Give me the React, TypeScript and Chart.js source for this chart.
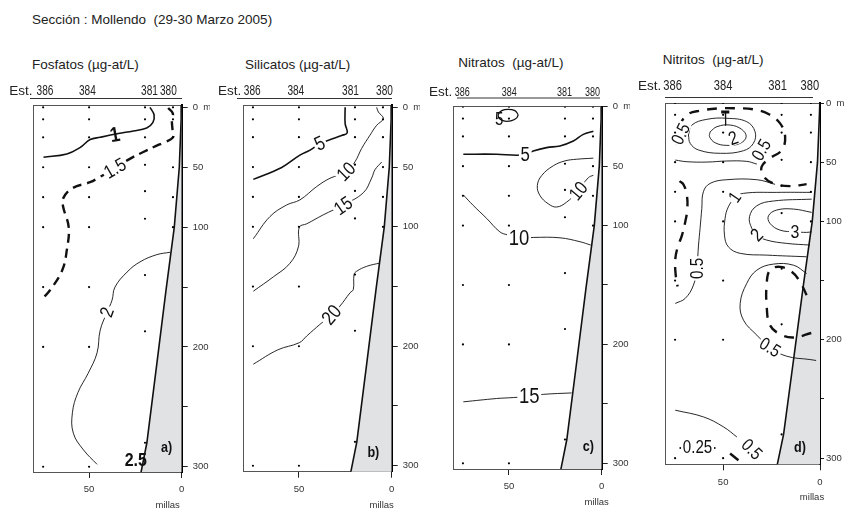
import React, { useEffect, useRef } from 'react';
import { Chart, registerables } from 'chart.js';

Chart.register(...registerables);

const FONT = '"Liberation Sans", Arial, Helvetica, sans-serif';

// ---------- shared data ----------
const STATIONS = ['386', '384', '381', '380'];
const STATION_MILLAS = [74.8, 50, 19.8, 4.7];
const STATION_DEPTHS = [
  [0, 10, 25, 50, 75, 100, 150, 200, 300],
  [0, 10, 25, 50, 75, 100, 150, 200, 300],
  [0, 10, 25, 48, 70, 93, 140, 187, 280],
  [0, 10, 25, 50, 75, 100],
];
const DEPTH_TICKS = [0, 50, 100, 150, 200, 250, 300];
const DEPTH_TICK_LABELS = ['0  m', '50', '100', '', '200', '', '300'];
const MILLAS_TICKS = [50, 0];
// shelf profile (millas, depth)
const SHELF = [[0, -5], [0.3, 10], [1.3, 50], [4, 100], [8.5, 153], [13.5, 215], [18.8, 280], [22, 305], [23.5, 320]];

// ---------- a) Fosfatos ----------
const FOS_1 = [[17.1, 0], [14.9, 6.4], [15.6, 12.8], [18.9, 17.2], [26.1, 19.7], [34.2, 21.9], [44, 25], [49.4, 26.9], [54.9, 33.6], [62, 38.9], [74.6, 41.7]];
const FOS_15 = [[7.3, 0.5], [4.8, 5], [5.3, 11], [5, 18], [4.7, 25], [9, 29], [13.5, 32], [21, 37.5], [28, 43], [36, 51], [44, 58], [49.5, 62.5], [59, 67.5], [64, 76], [64, 83], [61, 100], [62, 119], [64.5, 136], [71, 152.5], [74.8, 159]];
const FOS_2 = [[6.3, 121], [13.5, 123], [22.5, 129], [29.5, 137.5], [36, 150], [37.6, 161], [40.3, 171], [44, 186], [45.7, 205], [50.5, 222], [56, 238], [59, 255], [58.5, 272], [53, 286], [45.7, 298]];

// ---------- b) Silicatos ----------
const SIL_5 = [[25.1, 0], [25.1, 13.6], [24, 21.4], [27, 23.6], [31.5, 26.1], [38.7, 30.3], [44, 35.8], [49.5, 40], [59.3, 50.3], [74.6, 60.3]];
const SIL_10 = [[8.1, 0], [7.2, 3.9], [4.5, 9.4], [8.1, 15], [11.7, 23.3], [16.2, 34.4], [19.8, 45.6], [24.5, 54], [33.3, 59.4], [40.5, 66.4], [49.5, 77.5], [56.6, 81.7], [65.6, 91.4], [74.6, 110]];
const SIL_15 = [[5.4, 45.8], [9, 52.2], [10.8, 59.2], [15.3, 71.5], [26.1, 81.7], [36.9, 90], [45.8, 97.5], [49.8, 100.3], [50.3, 116.8], [55, 130.8], [63.8, 141.9], [74.6, 153.9]];
const SIL_20 = [[6.3, 130.3], [13.5, 133.1], [18.9, 137.2], [20.3, 140], [20.7, 152.5], [22.5, 155.3], [27.9, 166.4], [32.4, 173.6], [38.7, 181.7], [45.8, 191.4], [49.8, 197], [61.4, 203], [74.6, 215]];

// ---------- c) Nitratos ----------
const NIT_5_LOOP = [[45, 6.7], [46.8, 3.3], [50.4, 2.2], [53.9, 3.3], [55.8, 6.7], [54.9, 10.3], [52.2, 12.2], [48.5, 11.7], [45.8, 9.4], [45, 6.7]];
const NIT_5 = [[4.5, 20.6], [9.9, 23.3], [15.3, 28.9], [22.5, 33], [29.7, 34.4], [36.9, 37.2], [41.4, 40], [45.8, 40.8], [56.6, 40], [74.6, 40]];
const NIT_10_A = [[4.5, 43.3], [13.5, 44.2], [19.8, 45.6], [26.1, 49.7], [32.4, 58], [34.7, 66.4], [33.3, 74.7], [28.8, 81.7], [24.3, 84.4], [18.9, 80.3], [13.5, 72], [7.2, 59.7], [4.5, 57.7]];
const NIT_10_B = [[74.6, 74.2], [69.3, 83], [62, 94], [54.9, 105.3], [50.4, 108], [44.1, 110.8], [36.9, 110], [22.5, 110.3], [11.7, 113.6], [5.9, 116.4]];
const NIT_15 = [[74.6, 248.3], [56.6, 245.5], [47.7, 244.7], [38.7, 243.6], [31.5, 242], [16.2, 240.8]];

// ---------- d) Nitritos ----------
const NO2_05_DASH_TOP = [[74.2, 35.5], [73, 21.4], [68.7, 10.1], [61.9, 6.5], [51.5, 4.5], [42.9, 4.5], [34.4, 5.3], [26.6, 9.3], [20.6, 17.2], [18, 28.5], [19.7, 39.7], [25.8, 46.7], [30.1, 53.8], [29.2, 61.7], [24.1, 67.9], [15.5, 70.2], [6.9, 68.5]];
const NO2_1_LOOP = [[67.9, 27], [66.1, 18.6], [58.4, 13.8], [48.1, 12.9], [37.8, 15.8], [33.5, 24.3], [34.4, 34.1], [39.5, 40.3], [51.5, 42.5], [62.7, 39.7], [67, 34.1], [67.9, 27]];
const NO2_2_LOOP = [[56.7, 24.3], [53.2, 20], [46.4, 18.6], [40.4, 22.3], [38.1, 28.5], [41.2, 34.1], [48.1, 35.8], [54.1, 33.6], [57, 28.5], [56.7, 24.3]];
const NO2_LINE_50 = [[74.7, 48.2], [68.7, 49.6], [58.4, 49.9], [48.1, 49], [37.8, 49.3], [32.6, 51.6]];
const NO2_MARK = [[48.9, 8], [48.7, 19]];
const NO2_MARK_BAR = [[51, 7.5], [46.8, 7.5]];
const NO2_05_DASH_LEFT = [[72.5, 66], [70.4, 69], [68.7, 78], [68.5, 90], [69.5, 100], [71.3, 112], [73.5, 122], [74.7, 132], [74.5, 145], [73.5, 155]];
const NO2_05_SOLID = [[23.2, 68.7], [32.6, 64.8], [48.1, 64.8], [56.7, 67.9], [60.2, 75], [61, 89], [61.9, 105.9], [62.7, 120], [63.6, 139.7], [65.3, 153.8], [69.6, 165.1], [74.7, 169.3]];
const NO2_1 = [[4.3, 75.5], [22.3, 75.5], [39.5, 76.3], [43.8, 80], [47.3, 87.7], [49, 97.5], [49.3, 111.6], [47.3, 121.5], [41.2, 127], [27.5, 128.5], [6.9, 129.9]];
const NO2_2 = [[4.3, 81.2], [24.1, 82.8], [32.6, 86.8], [36.4, 96.1], [35.2, 105.9], [32.6, 111.6], [27.5, 115.8], [17.2, 118.6], [5.2, 120]];
const NO2_3 = [[4.3, 92.4], [13.7, 89.6], [22.3, 90.4], [26.6, 95.3], [25.8, 101.7], [20.6, 107.4], [12.9, 108.8], [6.9, 109.3], [4.3, 108.8]];
const NO2_05_DOME = [[6.9, 144], [13.7, 137], [24.1, 136.1], [32.6, 141.2], [37.8, 152.4], [41.2, 169.3], [39.5, 183.4], [32.6, 196.1], [25.8, 206.5], [17.2, 213.9], [5.2, 216.7], [2, 217.5]];
const NO2_05_DASH_DOME = [[6.9, 162.3], [10.3, 151], [14.6, 142.6], [20.6, 138.4], [25.8, 141.2], [27.5, 152.4], [27.5, 172.2], [25.8, 187.7], [20.6, 195.3], [13.7, 198.1], [4.3, 194.2]];
const NO2_05_BOTTOM = [[74.7, 259.5], [60.1, 265.2], [49.8, 273.6], [42.9, 282.1]];
const NO2_025_DASH = [[46.4, 296.1], [42.1, 301.8]];

// ---------- panel layout / styles ----------
type Line = { pts: number[][]; w: number; dash?: number[]; tension?: number };
type Lbl = { x: number; y: number; t: string; size: number; rot?: number; bold?: boolean; gap?: boolean };

const THIN = 0.9;
const MED = 1.6;
const DASHW = 2.4;

const PANELS: any[] = [
  {
    key: 'a', title: 'Fosfatos (µg-at/L)', titleX: 32, titleBase: 69.3,
    canvasLeft: 0, canvasW: 210, box: { l: 33.5, t: 105.3, r: 181.7, b: 472 }, yMin: -1.7, yMax: 304.4,
    estX: 9.3, estBase: 94.5, stSize: 14, stScale: 0.72, stPos: [73.8, 50.9, 17.4, 7.2], lineY: 98, lineL: 30, lineR: 182,
    tickLen: 6, tickPad: 5, millasDx: -14,
    lines: [
      { pts: FOS_1, w: MED },
      { pts: FOS_15, w: DASHW, dash: [9, 6] },
      { pts: FOS_2, w: THIN },
    ] as Line[],
    labels: [
      { x: 36, y: 23, t: '1', size: 21, rot: -10, bold: true },
      { x: 36, y: 51, t: '1.5', size: 19, rot: -30, gap: true },
      { x: 40.3, y: 171, t: '2', size: 19, rot: -70, gap: true },
      { x: 24.8, y: 294, t: '2.5', size: 19, bold: true },
      { x: 8.1, y: 283.6, t: 'a)', size: 15, bold: true },
    ] as Lbl[],
  },
  {
    key: 'b', title: 'Silicatos (µg-at/L)', titleX: 245, titleBase: 69.3,
    canvasLeft: 210, canvasW: 210, box: { l: 243.3, t: 105.3, r: 391.7, b: 471.7 }, yMin: -1.7, yMax: 305,
    estX: 218, estBase: 94.5, stSize: 14, stScale: 0.72, stPos: [75.2, 51.7, 22.2, 3.9], lineY: 98, lineL: 237, lineR: 392,
    tickLen: 6, tickPad: 5, millasDx: -10,
    lines: [
      { pts: SIL_5, w: MED },
      { pts: SIL_10, w: THIN },
      { pts: SIL_15, w: THIN },
      { pts: SIL_20, w: THIN },
    ] as Line[],
    labels: [
      { x: 38.7, y: 30.3, t: '5', size: 20, rot: -25, gap: true },
      { x: 24.5, y: 54, t: '10', size: 19, rot: -45, gap: true },
      { x: 26.1, y: 82.5, t: '15', size: 19, rot: -35, gap: true },
      { x: 32.4, y: 173.8, t: '20', size: 20, rot: -50, gap: true },
      { x: 9.9, y: 288.6, t: 'b)', size: 15, bold: true },
    ] as Lbl[],
  },
  {
    key: 'c', title: 'Nitratos  (µg-at/L)', titleX: 458.3, titleBase: 67.7,
    canvasLeft: 420, canvasW: 210, box: { l: 453.3, t: 106.7, r: 601.7, b: 469 }, yMin: 0, yMax: 304.8,
    estX: 429, estBase: 95.5, stSize: 12, stScale: 0.75, stPos: [75.2, 49.8, 20.1, 5], lineY: 97.5, lineL: 457, lineR: 600,
    tickLen: 6, tickPad: 5, millasDx: -5,
    lines: [
      { pts: NIT_5_LOOP, w: 1.3 },
      { pts: NIT_5, w: MED },
      { pts: NIT_10_A, w: THIN },
      { pts: NIT_10_B, w: THIN },
      { pts: NIT_15, w: THIN },
    ] as Lbl[] as any,
    labels: [
      { x: 55.2, y: 11, t: '5', size: 18 },
      { x: 41.2, y: 40, t: '5', size: 20, gap: true },
      { x: 12.5, y: 71, t: '10', size: 19, rot: -50, gap: true },
      { x: 44.6, y: 110.8, t: '10', size: 22, gap: true },
      { x: 39, y: 243.6, t: '15', size: 22, gap: true },
      { x: 7.2, y: 285.8, t: 'c)', size: 15, bold: true },
    ] as Lbl[],
  },
  {
    key: 'd', title: 'Nitritos  (µg-at/L)', titleX: 662.7, titleBase: 64,
    canvasLeft: 630, canvasW: 215, box: { l: 665, t: 103, r: 820, b: 464.3 }, yMin: 0, yMax: 305.2,
    estX: 638, estBase: 89.5, stSize: 15.5, stScale: 0.72, stPos: [76.1, 50, 21.9, 5.2], lineY: 97, lineL: 665, lineR: 813,
    tickLen: 4, tickPad: 2, millasDx: -8,
    lines: [
      { pts: NO2_05_DASH_TOP, w: DASHW, dash: [10, 8] },
      { pts: NO2_1_LOOP, w: THIN },
      { pts: NO2_2_LOOP, w: THIN },
      { pts: NO2_LINE_50, w: THIN },
      { pts: NO2_MARK, w: THIN, tension: 0 },
      { pts: NO2_MARK_BAR, w: 3, tension: 0 },
      { pts: NO2_05_DASH_LEFT, w: DASHW, dash: [10, 8] },
      { pts: NO2_05_SOLID, w: THIN },
      { pts: NO2_1, w: THIN },
      { pts: NO2_2, w: THIN },
      { pts: NO2_3, w: THIN },
      { pts: NO2_05_DOME, w: THIN },
      { pts: NO2_05_DASH_DOME, w: DASHW, dash: [10, 8] },
      { pts: NO2_05_BOTTOM, w: THIN },
      { pts: NO2_025_DASH, w: DASHW, tension: 0 },
    ] as Line[],
    labels: [
      { x: 71.8, y: 26.2, t: '0.5', size: 18, rot: -65, gap: true },
      { x: 44.7, y: 29.9, t: '2', size: 19, rot: -20, gap: true },
      { x: 30.2, y: 39.7, t: '0.5', size: 18, rot: -60, gap: true },
      { x: 43.9, y: 79.7, t: '1', size: 18, rot: -55, gap: true },
      { x: 32.6, y: 111.6, t: '2', size: 19, rot: -45, gap: true },
      { x: 12.9, y: 108.8, t: '3', size: 19, gap: true },
      { x: 63.4, y: 139.7, t: '0.5', size: 18, rot: -90, gap: true },
      { x: 25.8, y: 206.5, t: '0.5', size: 18, rot: 32, gap: true },
      { x: 35.2, y: 292.7, t: '0.5', size: 18, rot: 45, gap: true },
      { x: 63.2, y: 290.5, t: '·0.25·', size: 18, gap: true },
      { x: 10.3, y: 290.5, t: 'd)', size: 15, bold: true },
    ] as Lbl[],
  },
];

const CANVAS_TOP = 75;
const CANVAS_H = 433;

const toXY = (pts: number[][]) => pts.map(([x, y]) => ({ x, y }));

function overlayPlugin(p: any) {
  return {
    id: 'overlay_' + p.key,
    beforeDatasetDraw(chart: any, args: any) {
      if (args.meta.type !== 'scatter') return;
      const { ctx, scales } = chart;
      const xs = scales.x;
      const ys = scales.y;
      ctx.save();
      for (const lb of p.labels as Lbl[]) {
        const px = xs.getPixelForValue(lb.x);
        const py = ys.getPixelForValue(lb.y);
        ctx.save();
        ctx.translate(px, py);
        ctx.rotate(((lb.rot || 0) * Math.PI) / 180);
        ctx.scale(0.84, 1);
        ctx.font = `${lb.bold ? 'bold ' : ''}${lb.size}px ${FONT}`;
        ctx.textAlign = 'center';
        ctx.textBaseline = 'middle';
        if (lb.gap) {
          const w = ctx.measureText(lb.t).width;
          ctx.fillStyle = '#ffffff';
          ctx.fillRect(-w / 2 - 2, -lb.size * 0.36, w + 4, lb.size * 0.72);
        }
        ctx.fillStyle = '#111';
        ctx.fillText(lb.t, 0, lb.size * 0.04);
        ctx.restore();
      }
      ctx.restore();
    },
    afterDraw(chart: any) {
      const { ctx, chartArea, scales } = chart;
      const xs = scales.x;
      ctx.save();
      ctx.fillStyle = '#222';
      ctx.textBaseline = 'alphabetic';
      ctx.textAlign = 'left';
      ctx.font = `13.5px ${FONT}`;
      ctx.fillText('Est.', p.estX - p.canvasLeft, p.estBase - CANVAS_TOP);
      STATIONS.forEach((s, i) => {
        ctx.save();
        ctx.translate(xs.getPixelForValue(p.stPos[i]), p.estBase - CANVAS_TOP);
        ctx.scale(p.stScale, 1);
        ctx.font = `${p.stSize}px ${FONT}`;
        ctx.textAlign = 'center';
        ctx.fillText(s, 0, 0);
        ctx.restore();
      });
      ctx.strokeStyle = '#333';
      ctx.lineWidth = 1;
      ctx.beginPath();
      ctx.moveTo(p.lineL - p.canvasLeft, p.lineY - CANVAS_TOP + 0.5);
      ctx.lineTo(p.lineR - p.canvasLeft, p.lineY - CANVAS_TOP + 0.5);
      ctx.stroke();
      ctx.font = `9.5px ${FONT}`;
      ctx.textAlign = 'center';
      ctx.fillStyle = '#333';
      ctx.fillText('millas', xs.getPixelForValue(0) + p.millasDx, chartArea.bottom + 36);
      ctx.restore();
    },
  };
}

function buildChart(canvas: HTMLCanvasElement, p: any) {
  const datasets: any[] = [];
  const shelfPoly = [...SHELF, [0, 320]];
  datasets.push({
    type: 'line', data: toXY(shelfPoly), fill: 'shape', backgroundColor: '#e1e2e4',
    borderColor: 'rgba(0,0,0,0)', borderWidth: 0, pointRadius: 0, tension: 0, order: 5,
    xAxisID: 'x', yAxisID: 'y',
  });
  for (const ln of p.lines as Line[]) {
    datasets.push({
      type: 'line', data: toXY(ln.pts), borderColor: '#111', borderWidth: ln.w,
      borderDash: ln.dash || [], pointRadius: 0, tension: ln.tension ?? 0.4, fill: false,
      order: 2, xAxisID: 'x', yAxisID: 'y', borderCapStyle: 'butt',
    });
  }
  datasets.push({
    type: 'line', data: toXY(SHELF), borderColor: '#111', borderWidth: 1.6, pointRadius: 0,
    tension: 0, fill: false, order: 1, xAxisID: 'x', yAxisID: 'y',
  });
  const dots: any[] = [];
  STATION_MILLAS.forEach((m, i) => STATION_DEPTHS[i].forEach((d) => dots.push({ x: m, y: d })));
  datasets.push({
    type: 'scatter', data: dots, backgroundColor: '#000', borderWidth: 0, pointRadius: 1.1,
    order: 0, xAxisID: 'x', yAxisID: 'y',
  });

  const tickFont = { family: FONT, size: 9.5 };
  return new Chart(canvas, {
    type: 'scatter',
    data: { datasets },
    options: {
      animation: false,
      responsive: false,
      maintainAspectRatio: false,
      events: [],
      layout: { padding: { left: p.box.l - p.canvasLeft, right: 0, top: 0, bottom: 0 } },
      plugins: { legend: { display: false }, tooltip: { enabled: false }, title: { display: false } },
      scales: {
        x: {
          type: 'linear', position: 'bottom', reverse: true, min: 0, max: 80,
          afterBuildTicks: (s: any) => { s.ticks = MILLAS_TICKS.map((v) => ({ value: v })); },
          afterFit: (s: any) => { s.height = CANVAS_TOP + CANVAS_H - p.box.b; },
          ticks: { font: tickFont, color: '#333', padding: 6, maxRotation: 0, autoSkip: false, callback: (v: any) => String(v) },
          grid: { display: true, drawOnChartArea: false, drawTicks: true, tickLength: 6, tickColor: '#222', tickWidth: 1 },
          border: { display: true, color: '#555', width: 1 },
        },
        xt: {
          type: 'linear', position: 'top', reverse: true, min: 0, max: 80,
          afterFit: (s: any) => { s.height = p.box.t - CANVAS_TOP; },
          ticks: { display: false }, grid: { display: false },
          border: { display: true, color: '#555', width: 1 },
        },
        y: {
          type: 'linear', position: 'right', reverse: true, min: p.yMin, max: p.yMax,
          afterBuildTicks: (s: any) => { s.ticks = DEPTH_TICKS.map((v) => ({ value: v })); },
          afterFit: (s: any) => { s.width = p.canvasLeft + p.canvasW - p.box.r; },
          ticks: {
            font: tickFont, color: '#333', padding: p.tickPad, autoSkip: false,
            callback: (v: any) => { const i = DEPTH_TICKS.indexOf(Number(v)); return i >= 0 ? DEPTH_TICK_LABELS[i] : ''; },
          },
          grid: { display: true, drawOnChartArea: false, drawTicks: true, tickLength: p.tickLen, tickColor: '#222', tickWidth: 1 },
          border: { display: true, color: '#000', width: 2 },
        },
        yl: {
          type: 'linear', position: 'left', reverse: true, min: p.yMin, max: p.yMax,
          afterFit: (s: any) => { s.width = 0; },
          ticks: { display: false }, grid: { display: false },
          border: { display: true, color: '#555', width: 1 },
        },
      },
    } as any,
    plugins: [overlayPlugin(p)],
  });
}

export default function App() {
  const refs = useRef<(HTMLCanvasElement | null)[]>([]);
  useEffect(() => {
    const charts = PANELS.map((p, i) => buildChart(refs.current[i] as HTMLCanvasElement, p));
    return () => charts.forEach((c) => c.destroy());
  }, []);
  const textStyle = (left: number, base: number): React.CSSProperties => ({
    position: 'absolute', left, top: base - 11.4, fontSize: 13.5, lineHeight: '13.5px',
    whiteSpace: 'pre', color: '#222', fontFamily: FONT,
  });
  return (
    <div style={{ position: 'fixed', left: 0, top: 0, width: 845, height: 508, overflow: 'hidden', background: '#fff', fontFamily: FONT }}>
      <div style={textStyle(32, 24)}>Sección : Mollendo  (29-30 Marzo 2005)</div>
      {PANELS.map((p, i) => (
        <React.Fragment key={p.key}>
          <div style={textStyle(p.titleX, p.titleBase)}>{p.title}</div>
          <canvas
            ref={(el) => { refs.current[i] = el; }}
            width={p.canvasW}
            height={CANVAS_H}
            style={{ position: 'absolute', left: p.canvasLeft, top: CANVAS_TOP, width: p.canvasW, height: CANVAS_H }}
          />
        </React.Fragment>
      ))}
    </div>
  );
}
